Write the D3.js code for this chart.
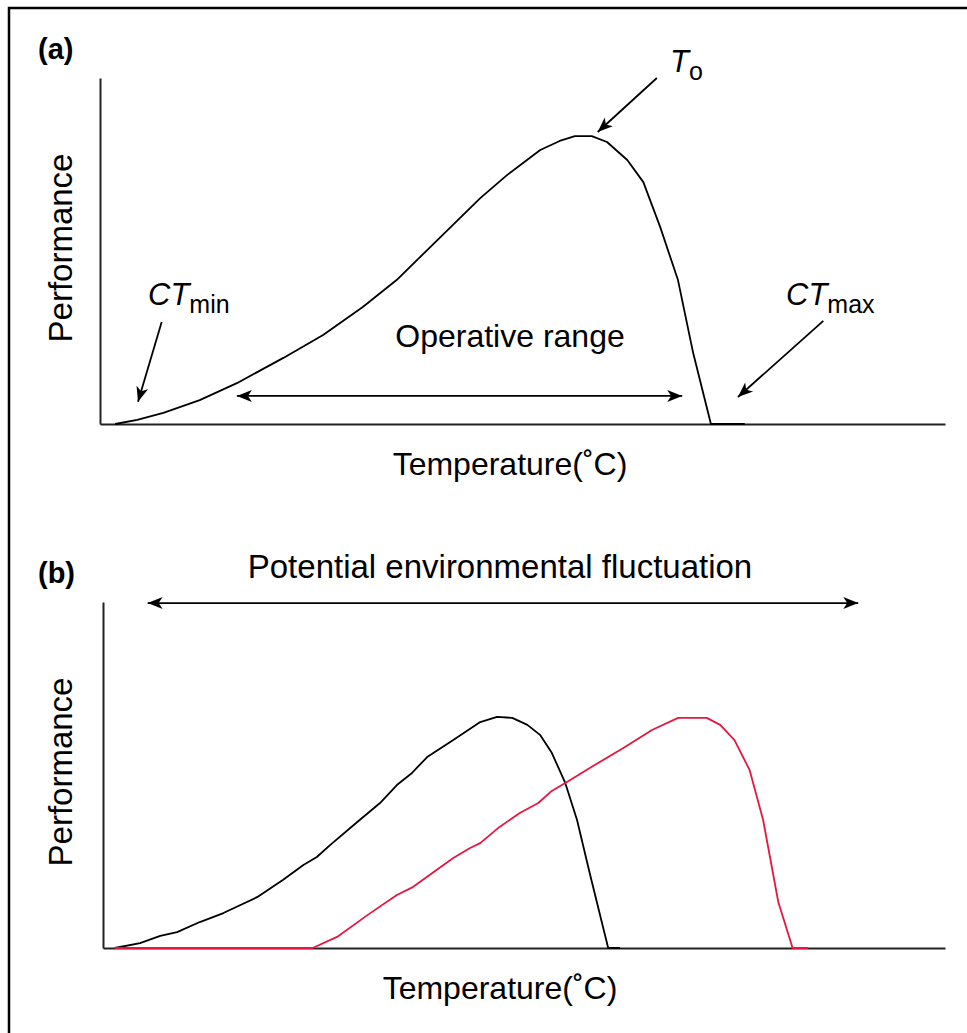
<!DOCTYPE html>
<html>
<head>
<meta charset="utf-8">
<script src="https://cdn.jsdelivr.net/npm/d3@7"></script>
<style>
  body { margin: 0; background: #fff; }
  svg text { font-family: "Liberation Sans", Arial, Helvetica, sans-serif; fill: #000; }
</style>
</head>
<body>
<svg id="chart" width="967" height="1033"></svg>
<script>
// panel (a): thermal performance curve (temperature 0-100, performance 0-1)
var tempA = [1.8, 4.4, 7.5, 11.8, 16.2, 21.7, 26.4, 31.1, 35.1, 40.2, 45.0, 48.2, 52.1, 54.4, 56.2, 58.2, 60.0, 62.4, 64.3, 66.3, 68.4, 70.2, 72.3, 76.3];
var perfA = [0, 0.012, 0.032, 0.069, 0.118, 0.191, 0.257, 0.338, 0.416, 0.538, 0.653, 0.720, 0.792, 0.818, 0.832, 0.832, 0.815, 0.763, 0.699, 0.569, 0.416, 0.205, 0, 0];

// panel (b): original curve (black) and shifted curve (red)
var tempB1 = [1.4, 4.4, 6.8, 8.8, 11.5, 14.3, 18.3, 21.4, 23.8, 25.4, 27.0, 30.2, 32.9, 34.9, 36.7, 38.5, 41.6, 44.8, 46.8, 48.6, 50.4, 51.9, 53.3, 54.9, 56.3, 57.8, 60.0, 61.4];
var perfB1 = [0, 0.014, 0.035, 0.046, 0.075, 0.101, 0.147, 0.197, 0.240, 0.263, 0.298, 0.364, 0.419, 0.471, 0.506, 0.552, 0.601, 0.653, 0.668, 0.665, 0.645, 0.616, 0.564, 0.477, 0.370, 0.217, 0, 0];
var tempB2 = [1.4, 24.9, 27.8, 31.4, 34.9, 36.8, 41.6, 43.6, 44.8, 47.1, 49.5, 51.7, 53.3, 55.1, 58.2, 61.8, 65.2, 68.3, 71.7, 73.3, 75.0, 76.8, 78.4, 80.2, 81.9, 83.7];
var perfB2 = [0, 0, 0.032, 0.095, 0.153, 0.176, 0.260, 0.289, 0.303, 0.350, 0.390, 0.419, 0.454, 0.480, 0.526, 0.578, 0.630, 0.665, 0.665, 0.645, 0.601, 0.514, 0.370, 0.133, 0, 0];

var svg = d3.select("#chart");

// outer frame (cut off at right and bottom like the source)
svg.append("rect")
  .attr("x", 9).attr("y", 8)
  .attr("width", 980).attr("height", 1050)
  .attr("fill", "none").attr("stroke", "#000").attr("stroke-width", 2.5);

var defs = svg.append("defs");
defs.append("marker")
  .attr("id", "head")
  .attr("viewBox", "-16 -8 18 16")
  .attr("refX", 0).attr("refY", 0)
  .attr("markerWidth", 18).attr("markerHeight", 16)
  .attr("markerUnits", "userSpaceOnUse")
  .attr("orient", "auto-start-reverse")
  .append("path")
  .attr("d", "M0,0 L-15,-6 L-11,0 L-15,6 Z")
  .attr("fill", "#000");

function drawPanel(opt) {
  var x = d3.scaleLinear().domain([0, 100]).range([opt.left, 945]);
  var y = d3.scaleLinear().domain([0, 1]).range([opt.bottom, opt.top]);
  var g = svg.append("g");

  // axes: plain lines, no ticks
  g.append("g")
    .attr("transform", "translate(0," + opt.bottom + ")")
    .call(d3.axisBottom(x).tickValues([]).tickSizeOuter(0))
    .select(".domain").attr("stroke-width", 2).attr("stroke", "#222");
  g.append("g")
    .attr("transform", "translate(" + opt.left + ",0)")
    .call(d3.axisLeft(y).tickValues([]).tickSizeOuter(0))
    .select(".domain").attr("stroke-width", 2).attr("stroke", "#222");

  var line = d3.line()
    .x(function(d) { return x(d[0]); })
    .y(function(d) { return y(d[1]); });

  opt.curves.forEach(function(c) {
    g.append("path")
      .datum(d3.zip(c.t, c.p))
      .attr("d", line)
      .attr("fill", "none")
      .attr("stroke", c.color)
      .attr("stroke-width", 1.8)
      .attr("stroke-linejoin", "round");
  });

  opt.arrows.forEach(function(a) {
    g.append("line")
      .attr("x1", x(a[0])).attr("y1", y(a[1]))
      .attr("x2", x(a[2])).attr("y2", y(a[3]))
      .attr("stroke", "#000").attr("stroke-width", 1.8)
      .attr("marker-end", "url(#head)")
      .attr("marker-start", a[4] ? "url(#head)" : null);
  });

  g.append("text")
    .attr("transform", "translate(72," + ((opt.top + opt.bottom) / 2 - 3) + ") rotate(-90)")
    .attr("text-anchor", "middle")
    .style("font-size", "33px")
    .text("Performance");

  g.append("text")
    .attr("x", opt.xLabelX).attr("y", opt.bottom + 51)
    .attr("text-anchor", "middle")
    .style("font-size", "32px")
    .text("Temperature(˚C)");

  g.append("text")
    .attr("x", 38).attr("y", opt.top - 19)
    .style("font-size", "29px").style("font-weight", "bold")
    .text(opt.tag);

  return { x: x, y: y, g: g };
}

// labels with italic symbol and upright subscript
function symbol(g, px, py, main, sub) {
  var t = g.append("text").attr("x", px).attr("y", py);
  t.append("tspan").style("font-style", "italic").style("font-size", "31px").text(main);
  t.append("tspan").attr("dy", 8).style("font-size", "25px").text(sub);
}

var a = drawPanel({
  left: 100, top: 78, bottom: 424, tag: "(a)", xLabelX: 510,
  curves: [{ t: tempA, p: perfA, color: "#000" }],
  arrows: [
    [16.2, 0.081, 68.9, 0.081, true],   // operative range
    [7.3, 0.295, 4.5, 0.064, false],    // CTmin
    [65.9, 1.0, 58.9, 0.844, false],    // To
    [85.6, 0.298, 75.5, 0.078, false]   // CTmax
  ]
});
symbol(a.g, 148, 305, "CT", "min");
symbol(a.g, 786, 305, "CT", "max");
symbol(a.g, 670, 72, "T", "o");
a.g.append("text")
  .attr("x", 510).attr("y", 347)
  .attr("text-anchor", "middle")
  .style("font-size", "32px")
  .text("Operative range");

var b = drawPanel({
  left: 103, top: 602, bottom: 948, tag: "(b)", xLabelX: 500,
  curves: [
    { t: tempB1, p: perfB1, color: "#000" },
    { t: tempB2, p: perfB2, color: "#e5173f" }
  ],
  arrows: [
    [5.3, 0.997, 89.7, 0.997, true]     // environmental fluctuation
  ]
});
b.g.append("text")
  .attr("x", 500).attr("y", 578)
  .attr("text-anchor", "middle")
  .style("font-size", "33px")
  .text("Potential environmental fluctuation");
</script>
</body>
</html>
